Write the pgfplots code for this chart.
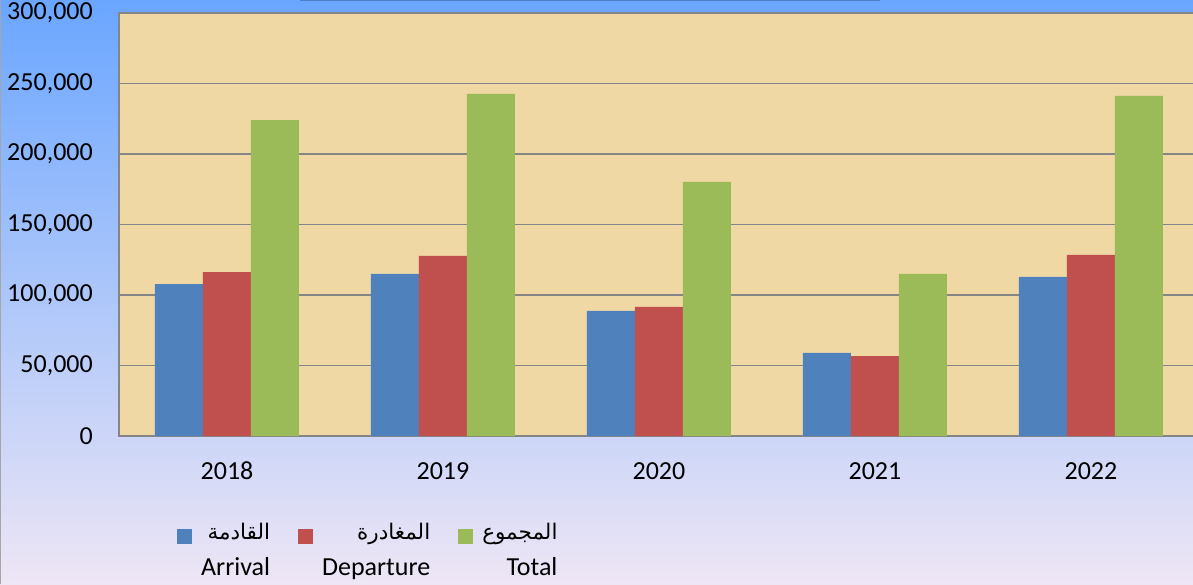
\documentclass[border=0pt]{standalone}
\usepackage{pgfplots}
\pgfplotsset{compat=1.18}
\usepackage{fontspec}
\setmainfont{Carlito}
\newfontfamily\arabicfont[Script=Arabic]{DejaVu Sans}
\TeXXeTstate=1

\definecolor{arrival}{RGB}{79,129,189}
\definecolor{departure}{RGB}{192,80,77}
\definecolor{total}{RGB}{155,187,89}
\definecolor{papyrus}{RGB}{239,216,164}
\definecolor{gridgray}{RGB}{133,133,133}
\definecolor{bgtop}{RGB}{106,166,255}
\definecolor{bgmid}{RGB}{160,195,243}
\definecolor{bgbot}{RGB}{238,230,245}
\definecolor{titleline}{RGB}{80,125,200}

\begin{document}
\begin{tikzpicture}[x=1pt,y=1pt]
\clip (0,0) rectangle (1193,584);
\shade[top color=bgtop, middle color=bgmid, bottom color=bgbot] (0,0) rectangle (1193,584);
\draw[gray!70, line width=1.2pt] (0.5,0) -- (0.5,584);
\draw[titleline, line width=1.5pt] (300,583.5) -- (880,583.5);
\begin{axis}[
  at={(119pt,148pt)}, anchor=south west,
  scale only axis, width=1080pt, height=423pt,
  font=\fontsize{26}{31}\selectfont,
  xmin=-0.5, xmax=4.5, ymin=0, ymax=300000,
  ybar=0pt, bar width=48pt,
  xtick=data, xticklabels={2018,2019,2020,2021,2022},
  ytick={0,50000,...,300000},
  scaled y ticks=false,
  yticklabel={\pgfmathprintnumber[fixed,precision=0,1000 sep={,},assume math mode=true]{\tick}},
  major tick length=0pt,
  ymajorgrids, grid style={gridgray, line width=1.8pt},
  axis line style={gridgray, line width=1.6pt},
  axis background/.style={fill=papyrus},
  yticklabel style={inner sep=0pt, anchor=east, xshift=-26pt},
  xticklabel style={inner sep=0pt, anchor=north, yshift=-26pt},
  legend columns=3,
  legend style={at={(axis description cs:0.0537,-0.181)}, anchor=north west,
    draw=none, fill=none, inner sep=0pt,
    cells={anchor=base west},
    /tikz/every odd column/.append style={column sep=7pt},
    /tikz/every even column/.append style={column sep=26pt}},
  legend image code/.code={\fill[#1] (0pt,-4pt) rectangle (15pt,11pt);},
]
\addplot[fill=arrival, draw=none] coordinates {(0,107800) (1,114900) (2,88700) (3,58900) (4,112800)};
\addplot[fill=departure, draw=none] coordinates {(0,116300) (1,127700) (2,91500) (3,56700) (4,128400)};
\addplot[fill=total, draw=none] coordinates {(0,224100) (1,242600) (2,180200) (3,114900) (4,241200)};
\legend{
  {\fontsize{26}{36}\selectfont\begin{tabular}[t]{@{}r@{}}{\arabicfont\fontsize{21.5}{36}\selectfont\beginR القادمة\endR}\\Arrival\end{tabular}},
  {\fontsize{26}{36}\selectfont\begin{tabular}[t]{@{}r@{}}{\arabicfont\fontsize{21.5}{36}\selectfont\beginR المغادرة\endR}\\Departure\end{tabular}},
  {\fontsize{26}{36}\selectfont\begin{tabular}[t]{@{}r@{}}{\arabicfont\fontsize{21.5}{36}\selectfont\beginR المجموع\endR}\\Total\end{tabular}}}
\end{axis}
\end{tikzpicture}
\end{document}
